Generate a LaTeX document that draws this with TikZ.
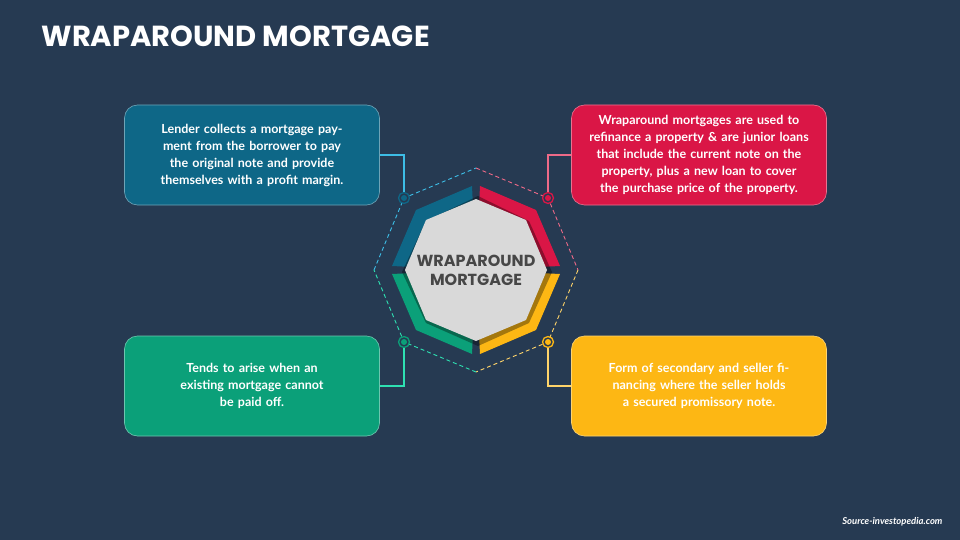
\documentclass[tikz,border=0pt]{standalone}
\usepackage{fontspec}
\setmainfont{Lato}
\newfontfamily\titlefont{Poppins}
\usetikzlibrary{calc}
\definecolor{bg}{HTML}{263A52}
\definecolor{cb}{HTML}{0E6787}
\definecolor{cr}{HTML}{DA1646}
\definecolor{cg}{HTML}{0BA079}
\definecolor{cy}{HTML}{FDB714}
\definecolor{lb}{HTML}{3DBDE6}
\definecolor{lr}{HTML}{EE6A88}
\definecolor{lg}{HTML}{2EE0B2}
\definecolor{ly}{HTML}{FFD46A}
\tikzset{
  box/.style={rounded corners=13pt, minimum width=255pt, minimum height=100pt, text width=235pt, align=center, text=white, font=\fontsize{12.5}{17}\selectfont\bfseries, draw=#1!60!white, line width=0.6pt},
  conn/.style={line width=1.4pt},
  dsh/.style={dashed, line width=0.9pt, dash pattern=on 4pt off 3pt},
}
\begin{document}
\begin{tikzpicture}[x=1pt,y=-1pt]
\fill[bg] (0,0) rectangle (960,540);
\useasboundingbox (0,0) rectangle (960,540);
\node[anchor=west, text=white, font=\titlefont\fontsize{29}{32}\selectfont\bfseries] (title) at (38,36) {WRAPAROUND MORTGAGE};
\node[anchor=east, text=white, font=\fontsize{9.5}{11}\selectfont\bfseries\itshape] (src) at (946,522) {Source-investopedia.com};
\coordinate (c) at (476,270);
% dashed octagon
\draw[dsh,lb] ($(c)+(-102,0)$) -- ($(c)+(-72,-72)$) -- ($(c)+(0,-102)$);
\draw[dsh,lr] ($(c)+(0,-102)$) -- ($(c)+(72,-72)$) -- ($(c)+(102,0)$);
\draw[dsh,ly] ($(c)+(102,0)$) -- ($(c)+(72,72)$) -- ($(c)+(0,102)$);
\draw[dsh,lg] ($(c)+(0,102)$) -- ($(c)+(-72,72)$) -- ($(c)+(-102,0)$);
% colored ring
\fill[cb] ($(c)+(-84,-4)$) -- ($(c)+(-60,-60)$) -- ($(c)+(-4,-84)$) -- (c) -- cycle;
\fill[cr] ($(c)+(84,-4)$) -- ($(c)+(60,-60)$) -- ($(c)+(4,-84)$) -- (c) -- cycle;
\fill[cy] ($(c)+(84,4)$) -- ($(c)+(60,60)$) -- ($(c)+(4,84)$) -- (c) -- cycle;
\fill[cg] ($(c)+(-84,4)$) -- ($(c)+(-60,60)$) -- ($(c)+(-4,84)$) -- (c) -- cycle;
% grey octagon with shadow
\fill[black,opacity=0.35] ($(c)+(-74,2)$) -- ($(c)+(-50,-49)$) -- ($(c)+(2,-74)$) -- ($(c)+(53,-49)$) -- ($(c)+(76,2)$) -- ($(c)+(53,53)$) -- ($(c)+(2,76)$) -- ($(c)+(-50,53)$) -- cycle;
\fill[gray!30] ($(c)+(-71,0)$) -- ($(c)+(-50,-50)$) -- ($(c)+(0,-71)$) -- ($(c)+(50,-50)$) -- ($(c)+(71,0)$) -- ($(c)+(50,50)$) -- ($(c)+(0,71)$) -- ($(c)+(-50,50)$) -- cycle;
\node[text=black!72, align=center, font=\titlefont\fontsize{16}{19}\selectfont\bfseries] (ctext) at (c) {WRAPAROUND\\MORTGAGE};
% boxes
\node[box=cb, fill=cb] (b1) at (252,155) {Lender collects a mortgage payment from the borrower to pay the original note and provide themselves with a profit margin.};
\node[box=cr, fill=cr] (b2) at (699,155) {Wraparound mortgages are used to refinance a property \& are junior loans that include the current note on the property, plus a new loan to cover the purchase price of the property.};
\node[box=cg, fill=cg] (b3) at (252,386) {Tends to arise when an\\ existing mortgage cannot\\ be paid off.};
\node[box=cy, fill=cy] (b4) at (699,386) {Form of secondary and seller financing where the seller holds a secured promissory note.};
% markers
\foreach \n/\dx/\dy/\col/\lc in {m1/-72/-72/cb/lb, m2/72/-72/cr/lr, m3/-72/72/cg/lg, m4/72/72/cy/ly}{
  \node[circle, draw=\col, line width=1.3pt, fill=bg, minimum size=11pt, inner sep=0pt] (\n) at ($(c)+(\dx,\dy)$) {};
  \fill[\col] (\n) circle (3pt);
}
\draw[conn,lb] (b1.east) -| (m1.north);
\draw[conn,lr] (b2.west) -| (m2.north);
\draw[conn,lg] (b3.east) -| (m3.south);
\draw[conn,ly] (b4.west) -| (m4.south);
\end{tikzpicture}
\end{document}
